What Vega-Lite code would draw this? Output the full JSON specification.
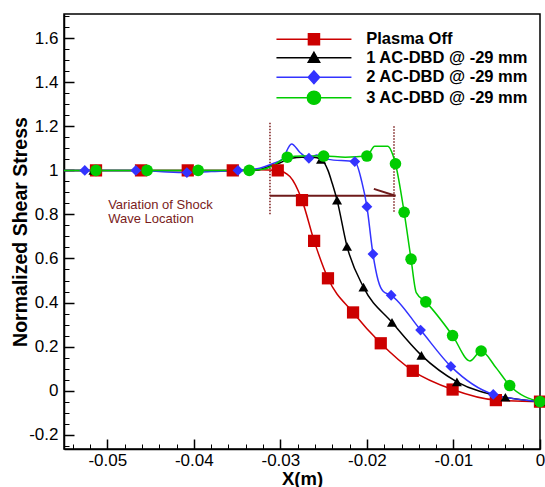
{
  "$schema": "https://vega.github.io/schema/vega-lite/v6.json",
  "width": 476,
  "height": 435,
  "autosize": "none",
  "padding": {"left": 64, "top": 14, "right": 5, "bottom": 38},
  "background": "white",
  "config": {"view": {"stroke": "black", "strokeWidth": 1.5}, "font": "Liberation Sans"},
  "datasets": {
    "lines": [
      {"series": "Plasma Off", "x": -0.055, "y": 1.0},
      {"series": "Plasma Off", "x": -0.0513, "y": 1.0},
      {"series": "Plasma Off", "x": -0.0461, "y": 1.0},
      {"series": "Plasma Off", "x": -0.0407, "y": 1.0},
      {"series": "Plasma Off", "x": -0.0355, "y": 1.0},
      {"series": "Plasma Off", "x": -0.0325, "y": 1.003},
      {"series": "Plasma Off", "x": -0.0303, "y": 1.0},
      {"series": "Plasma Off", "x": -0.0289, "y": 0.972},
      {"series": "Plasma Off", "x": -0.0275, "y": 0.865},
      {"series": "Plasma Off", "x": -0.0261, "y": 0.68},
      {"series": "Plasma Off", "x": -0.0245, "y": 0.51},
      {"series": "Plasma Off", "x": -0.0216, "y": 0.355},
      {"series": "Plasma Off", "x": -0.0184, "y": 0.215},
      {"series": "Plasma Off", "x": -0.0147, "y": 0.09},
      {"series": "Plasma Off", "x": -0.0101, "y": 0.005},
      {"series": "Plasma Off", "x": -0.0051, "y": -0.043},
      {"series": "Plasma Off", "x": 0, "y": -0.05},
      {"series": "1 AC-DBD @ -29 mm", "x": -0.055, "y": 1.0},
      {"series": "1 AC-DBD @ -29 mm", "x": -0.0516, "y": 1.0},
      {"series": "1 AC-DBD @ -29 mm", "x": -0.04, "y": 1.0},
      {"series": "1 AC-DBD @ -29 mm", "x": -0.033, "y": 1.0},
      {"series": "1 AC-DBD @ -29 mm", "x": -0.0315, "y": 1.015},
      {"series": "1 AC-DBD @ -29 mm", "x": -0.03, "y": 1.035},
      {"series": "1 AC-DBD @ -29 mm", "x": -0.0287, "y": 1.055},
      {"series": "1 AC-DBD @ -29 mm", "x": -0.0275, "y": 1.06},
      {"series": "1 AC-DBD @ -29 mm", "x": -0.0262, "y": 1.06},
      {"series": "1 AC-DBD @ -29 mm", "x": -0.0253, "y": 1.05},
      {"series": "1 AC-DBD @ -29 mm", "x": -0.0245, "y": 1.0},
      {"series": "1 AC-DBD @ -29 mm", "x": -0.024, "y": 0.94},
      {"series": "1 AC-DBD @ -29 mm", "x": -0.02345, "y": 0.865},
      {"series": "1 AC-DBD @ -29 mm", "x": -0.0223, "y": 0.655},
      {"series": "1 AC-DBD @ -29 mm", "x": -0.0204, "y": 0.47},
      {"series": "1 AC-DBD @ -29 mm", "x": -0.0171, "y": 0.31},
      {"series": "1 AC-DBD @ -29 mm", "x": -0.0137, "y": 0.16},
      {"series": "1 AC-DBD @ -29 mm", "x": -0.0096, "y": 0.04},
      {"series": "1 AC-DBD @ -29 mm", "x": -0.004, "y": -0.03},
      {"series": "1 AC-DBD @ -29 mm", "x": 0, "y": -0.05},
      {"series": "2 AC-DBD @ -29 mm", "x": -0.055, "y": 1.0},
      {"series": "2 AC-DBD @ -29 mm", "x": -0.0526, "y": 1.0},
      {"series": "2 AC-DBD @ -29 mm", "x": -0.0467, "y": 1.0},
      {"series": "2 AC-DBD @ -29 mm", "x": -0.044, "y": 0.995},
      {"series": "2 AC-DBD @ -29 mm", "x": -0.0408, "y": 0.99},
      {"series": "2 AC-DBD @ -29 mm", "x": -0.038, "y": 0.995},
      {"series": "2 AC-DBD @ -29 mm", "x": -0.0349, "y": 1.0},
      {"series": "2 AC-DBD @ -29 mm", "x": -0.0324, "y": 1.01},
      {"series": "2 AC-DBD @ -29 mm", "x": -0.0309, "y": 1.03},
      {"series": "2 AC-DBD @ -29 mm", "x": -0.0298, "y": 1.05},
      {"series": "2 AC-DBD @ -29 mm", "x": -0.0287, "y": 1.12},
      {"series": "2 AC-DBD @ -29 mm", "x": -0.0277, "y": 1.08},
      {"series": "2 AC-DBD @ -29 mm", "x": -0.0267, "y": 1.055},
      {"series": "2 AC-DBD @ -29 mm", "x": -0.0258, "y": 1.07},
      {"series": "2 AC-DBD @ -29 mm", "x": -0.0245, "y": 1.05},
      {"series": "2 AC-DBD @ -29 mm", "x": -0.0214, "y": 1.04},
      {"series": "2 AC-DBD @ -29 mm", "x": -0.0206, "y": 0.95},
      {"series": "2 AC-DBD @ -29 mm", "x": -0.02, "y": 0.835},
      {"series": "2 AC-DBD @ -29 mm", "x": -0.0193, "y": 0.62},
      {"series": "2 AC-DBD @ -29 mm", "x": -0.0187, "y": 0.5},
      {"series": "2 AC-DBD @ -29 mm", "x": -0.0181, "y": 0.45},
      {"series": "2 AC-DBD @ -29 mm", "x": -0.0172, "y": 0.433},
      {"series": "2 AC-DBD @ -29 mm", "x": -0.0138, "y": 0.275},
      {"series": "2 AC-DBD @ -29 mm", "x": -0.0103, "y": 0.11},
      {"series": "2 AC-DBD @ -29 mm", "x": -0.0054, "y": -0.017},
      {"series": "2 AC-DBD @ -29 mm", "x": 0, "y": -0.05},
      {"series": "3 AC-DBD @ -29 mm", "x": -0.055, "y": 1.0},
      {"series": "3 AC-DBD @ -29 mm", "x": -0.0513, "y": 1.0},
      {"series": "3 AC-DBD @ -29 mm", "x": -0.0454, "y": 1.0},
      {"series": "3 AC-DBD @ -29 mm", "x": -0.0395, "y": 1.0},
      {"series": "3 AC-DBD @ -29 mm", "x": -0.0336, "y": 1.0},
      {"series": "3 AC-DBD @ -29 mm", "x": -0.032, "y": 1.005},
      {"series": "3 AC-DBD @ -29 mm", "x": -0.0307, "y": 1.025},
      {"series": "3 AC-DBD @ -29 mm", "x": -0.0292, "y": 1.06},
      {"series": "3 AC-DBD @ -29 mm", "x": -0.0275, "y": 1.065},
      {"series": "3 AC-DBD @ -29 mm", "x": -0.025, "y": 1.065},
      {"series": "3 AC-DBD @ -29 mm", "x": -0.0225, "y": 1.06},
      {"series": "3 AC-DBD @ -29 mm", "x": -0.02, "y": 1.065},
      {"series": "3 AC-DBD @ -29 mm", "x": -0.0191, "y": 1.11},
      {"series": "3 AC-DBD @ -29 mm", "x": -0.0176, "y": 1.11},
      {"series": "3 AC-DBD @ -29 mm", "x": -0.017, "y": 1.07},
      {"series": "3 AC-DBD @ -29 mm", "x": -0.0167, "y": 1.03},
      {"series": "3 AC-DBD @ -29 mm", "x": -0.0157, "y": 0.81},
      {"series": "3 AC-DBD @ -29 mm", "x": -0.0149, "y": 0.597},
      {"series": "3 AC-DBD @ -29 mm", "x": -0.0143, "y": 0.445},
      {"series": "3 AC-DBD @ -29 mm", "x": -0.0132, "y": 0.403},
      {"series": "3 AC-DBD @ -29 mm", "x": -0.0101, "y": 0.25},
      {"series": "3 AC-DBD @ -29 mm", "x": -0.0081, "y": 0.135},
      {"series": "3 AC-DBD @ -29 mm", "x": -0.0068, "y": 0.18},
      {"series": "3 AC-DBD @ -29 mm", "x": -0.0051, "y": 0.105},
      {"series": "3 AC-DBD @ -29 mm", "x": -0.0035, "y": 0.023},
      {"series": "3 AC-DBD @ -29 mm", "x": 0, "y": -0.05}
    ],
    "markers": [
      {"series": "Plasma Off", "x": -0.0513, "y": 1.0},
      {"series": "Plasma Off", "x": -0.0461, "y": 1.0},
      {"series": "Plasma Off", "x": -0.0407, "y": 1.0},
      {"series": "Plasma Off", "x": -0.0355, "y": 1.0},
      {"series": "Plasma Off", "x": -0.0303, "y": 1.0},
      {"series": "Plasma Off", "x": -0.0275, "y": 0.865},
      {"series": "Plasma Off", "x": -0.0261, "y": 0.68},
      {"series": "Plasma Off", "x": -0.0245, "y": 0.51},
      {"series": "Plasma Off", "x": -0.0216, "y": 0.355},
      {"series": "Plasma Off", "x": -0.0184, "y": 0.215},
      {"series": "Plasma Off", "x": -0.0147, "y": 0.09},
      {"series": "Plasma Off", "x": -0.0101, "y": 0.005},
      {"series": "Plasma Off", "x": -0.0051, "y": -0.043},
      {"series": "Plasma Off", "x": 0, "y": -0.05},
      {"series": "1 AC-DBD @ -29 mm", "x": -0.0516, "y": 1.0},
      {"series": "1 AC-DBD @ -29 mm", "x": -0.0253, "y": 1.05},
      {"series": "1 AC-DBD @ -29 mm", "x": -0.02345, "y": 0.865},
      {"series": "1 AC-DBD @ -29 mm", "x": -0.0223, "y": 0.655},
      {"series": "1 AC-DBD @ -29 mm", "x": -0.0204, "y": 0.47},
      {"series": "1 AC-DBD @ -29 mm", "x": -0.0171, "y": 0.31},
      {"series": "1 AC-DBD @ -29 mm", "x": -0.0137, "y": 0.16},
      {"series": "1 AC-DBD @ -29 mm", "x": -0.0096, "y": 0.04},
      {"series": "1 AC-DBD @ -29 mm", "x": -0.004, "y": -0.03},
      {"series": "1 AC-DBD @ -29 mm", "x": 0, "y": -0.05},
      {"series": "2 AC-DBD @ -29 mm", "x": -0.0526, "y": 1.0},
      {"series": "2 AC-DBD @ -29 mm", "x": -0.0467, "y": 1.0},
      {"series": "2 AC-DBD @ -29 mm", "x": -0.0408, "y": 0.99},
      {"series": "2 AC-DBD @ -29 mm", "x": -0.0349, "y": 1.0},
      {"series": "2 AC-DBD @ -29 mm", "x": -0.0267, "y": 1.055},
      {"series": "2 AC-DBD @ -29 mm", "x": -0.0214, "y": 1.04},
      {"series": "2 AC-DBD @ -29 mm", "x": -0.02, "y": 0.835},
      {"series": "2 AC-DBD @ -29 mm", "x": -0.0193, "y": 0.62},
      {"series": "2 AC-DBD @ -29 mm", "x": -0.0172, "y": 0.433},
      {"series": "2 AC-DBD @ -29 mm", "x": -0.0138, "y": 0.275},
      {"series": "2 AC-DBD @ -29 mm", "x": -0.0103, "y": 0.11},
      {"series": "2 AC-DBD @ -29 mm", "x": -0.0054, "y": -0.017},
      {"series": "2 AC-DBD @ -29 mm", "x": 0, "y": -0.05},
      {"series": "3 AC-DBD @ -29 mm", "x": -0.0513, "y": 1.0},
      {"series": "3 AC-DBD @ -29 mm", "x": -0.0454, "y": 1.0},
      {"series": "3 AC-DBD @ -29 mm", "x": -0.0395, "y": 1.0},
      {"series": "3 AC-DBD @ -29 mm", "x": -0.0336, "y": 1.0},
      {"series": "3 AC-DBD @ -29 mm", "x": -0.0292, "y": 1.06},
      {"series": "3 AC-DBD @ -29 mm", "x": -0.025, "y": 1.065},
      {"series": "3 AC-DBD @ -29 mm", "x": -0.02, "y": 1.065},
      {"series": "3 AC-DBD @ -29 mm", "x": -0.0167, "y": 1.03},
      {"series": "3 AC-DBD @ -29 mm", "x": -0.0157, "y": 0.81},
      {"series": "3 AC-DBD @ -29 mm", "x": -0.0149, "y": 0.597},
      {"series": "3 AC-DBD @ -29 mm", "x": -0.0132, "y": 0.403},
      {"series": "3 AC-DBD @ -29 mm", "x": -0.0101, "y": 0.25},
      {"series": "3 AC-DBD @ -29 mm", "x": -0.0068, "y": 0.18},
      {"series": "3 AC-DBD @ -29 mm", "x": -0.0035, "y": 0.023},
      {"series": "3 AC-DBD @ -29 mm", "x": 0, "y": -0.05}
    ],
    "vlines": [
      {"x": -0.0312, "y1": 1.216, "y2": 0.794},
      {"x": -0.01687, "y1": 1.2, "y2": 0.807}
    ],
    "arrow": [
      {"x1": -0.0312, "x2": -0.0167, "y1": 0.885, "y2": 0.885},
      {"x1": -0.0192, "x2": -0.0167, "y1": 0.916, "y2": 0.885}
    ],
    "note": [
      {"x": -0.0499, "y": 0.844, "text": "Variation of Shock"},
      {"x": -0.0499, "y": 0.781, "text": "Wave Location"}
    ]
  },
  "layer": [
    {
      "data": {"name": "vlines"},
      "mark": {"type": "rule", "strokeDash": [1.5, 1.5], "strokeWidth": 1.5, "color": "#7a1c1c"},
      "encoding": {
        "x": {"field": "x", "type": "quantitative", "scale": {"domain": [-0.055, 0], "nice": false, "zero": false}, "axis": null},
        "y": {"field": "y1", "type": "quantitative", "scale": {"domain": [-0.265, 1.71], "nice": false, "zero": false}, "axis": null},
        "y2": {"field": "y2"}
      }
    },
    {
      "data": {"name": "arrow"},
      "mark": {"type": "rule", "strokeWidth": 2, "color": "#6e1a1a"},
      "encoding": {
        "x": {"field": "x1", "type": "quantitative", "scale": {"domain": [-0.055, 0], "nice": false, "zero": false}, "axis": null},
        "x2": {"field": "x2"},
        "y": {"field": "y1", "type": "quantitative", "scale": {"domain": [-0.265, 1.71], "nice": false, "zero": false}, "axis": null},
        "y2": {"field": "y2"}
      }
    },
    {
      "data": {"name": "note"},
      "mark": {"type": "text", "align": "left", "baseline": "middle", "font": "Liberation Sans", "fontSize": 13, "color": "#7a1c1c"},
      "encoding": {
        "x": {"field": "x", "type": "quantitative", "scale": {"domain": [-0.055, 0], "nice": false, "zero": false}, "axis": null},
        "y": {"field": "y", "type": "quantitative", "scale": {"domain": [-0.265, 1.71], "nice": false, "zero": false}, "axis": null},
        "text": {"field": "text"}
      }
    },
    {
      "data": {"name": "lines"},
      "mark": {"type": "line", "interpolate": "monotone", "strokeWidth": 1.5},
      "encoding": {
        "x": {
          "field": "x", "type": "quantitative",
          "scale": {"domain": [-0.055, 0], "nice": false, "zero": false},
          "axis": {
            "orient": "bottom",
            "values": [-0.05, -0.04, -0.03, -0.02, -0.01, 0],
            "tickCount": 50,
            "labelExpr": "replace(format(datum.value, '.2~f'), '\u2212', '-')",
            "title": "X(m)", "titleFont": "Liberation Sans", "titleFontSize": 18.5, "titleFontWeight": "bold", "titleColor": "black", "titlePadding": 1,
            "labelFont": "Liberation Sans", "labelFontSize": 17, "labelColor": "black", "labelPadding": 13,
            "labelFlush": false, "labelOverlap": false, "labelBound": false,
            "tickSize": -10, "tickWidth": 1.5, "tickColor": "black",
            "domainColor": "black", "domainWidth": 1.5, "grid": false
          }
        },
        "y": {
          "field": "y", "type": "quantitative",
          "scale": {"domain": [-0.265, 1.71], "nice": false, "zero": false},
          "axis": {
            "orient": "left",
            "values": [-0.2, 0, 0.2, 0.4, 0.6, 0.8, 1, 1.2, 1.4, 1.6],
            "tickCount": 50,
            "labelExpr": "replace(format(datum.value, '.2~f'), '\u2212', '-')",
            "title": "Normalized Shear Stress", "titleFont": "Liberation Sans", "titleFontSize": 19.5, "titleFontWeight": "bold", "titleColor": "black", "titlePadding": -2,
            "labelFont": "Liberation Sans", "labelFontSize": 17, "labelColor": "black", "labelPadding": 16,
            "labelFlush": false, "labelOverlap": false, "labelBound": false,
            "tickSize": -10, "tickWidth": 1.5, "tickColor": "black",
            "domainColor": "black", "domainWidth": 1.5, "grid": false
          }
        },
        "stroke": {
          "field": "series", "type": "nominal",
          "scale": {"domain": ["Plasma Off", "1 AC-DBD @ -29 mm", "2 AC-DBD @ -29 mm", "3 AC-DBD @ -29 mm"], "range": ["#cc0000", "#000000", "#3333ff", "#00cc00"]},
          "legend": {
            "orient": "none", "legendX": 241.7, "legendY": 17, "title": null, "padding": 0,
            "labelFont": "Liberation Sans", "labelFontSize": 16.5, "labelFontWeight": "bold", "labelColor": "black", "labelLimit": 400,
            "labelOffset": 44, "symbolSize": 144, "symbolStrokeWidth": 1.5, "rowPadding": 0.5,
            "encode": {
              "symbols": {
                "update": {
                  "shape": {"signal": "datum.value === 'Plasma Off' ? 'M-6.25,0H6.25M-0.92,-0.92H0.92V0.92H-0.92Z' : datum.value === '1 AC-DBD @ -29 mm' ? 'M-6.25,0H6.25M0,-0.9L0.95,0.75H-0.95Z' : datum.value === '2 AC-DBD @ -29 mm' ? 'M-6.25,0H6.25M0,-1.05L0.95,0L0,1.05L-0.95,0Z' : 'M-6.25,0H6.25M-1.1,0A1.1,1.1,0,1,0,1.1,0A1.1,1.1,0,1,0,-1.1,0Z'"},
                  "fill": {"signal": "scale('stroke', datum.value)"},
                  "fillOpacity": {"value": 1},
                  "strokeOpacity": {"value": 1},
                  "strokeWidth": {"value": 1.5}
                }
              }
            }
          }
        }
      }
    },
    {
      "data": {"name": "markers"},
      "mark": {"type": "point", "filled": true, "opacity": 1, "strokeWidth": 0},
      "encoding": {
        "x": {
          "field": "x", "type": "quantitative",
          "scale": {"domain": [-0.055, 0], "nice": false, "zero": false},
          "axis": {
            "orient": "bottom",
            "values": [-0.054, -0.052, -0.048, -0.046, -0.044, -0.042, -0.038, -0.036, -0.034, -0.032, -0.028, -0.026, -0.024, -0.022, -0.018, -0.016, -0.014, -0.012, -0.008, -0.006, -0.004, -0.002],
            "tickCount": 100,
            "labels": false, "domain": false, "title": null, "grid": false,
            "tickSize": -5, "tickWidth": 1, "tickColor": "black"
          }
        },
        "y": {
          "field": "y", "type": "quantitative",
          "scale": {"domain": [-0.265, 1.71], "nice": false, "zero": false},
          "axis": {
            "orient": "left",
            "values": [-0.25, -0.15, -0.1, -0.05, 0.05, 0.1, 0.15, 0.25, 0.3, 0.35, 0.45, 0.5, 0.55, 0.65, 0.7, 0.75, 0.85, 0.9, 0.95, 1.05, 1.1, 1.15, 1.25, 1.3, 1.35, 1.45, 1.5, 1.55, 1.65, 1.7],
            "tickCount": 100,
            "labels": false, "domain": false, "title": null, "grid": false,
            "tickSize": -5, "tickWidth": 1, "tickColor": "black"
          }
        },
        "fill": {
          "field": "series", "type": "nominal",
          "scale": {"domain": ["1 AC-DBD @ -29 mm", "2 AC-DBD @ -29 mm", "3 AC-DBD @ -29 mm", "Plasma Off"], "range": ["#000000", "#3333ff", "#00cc00", "#cc0000"]},
          "legend": null
        },
        "shape": {
          "field": "series", "type": "nominal",
          "scale": {"domain": ["1 AC-DBD @ -29 mm", "2 AC-DBD @ -29 mm", "3 AC-DBD @ -29 mm", "Plasma Off"], "range": ["triangle-up", "diamond", "circle", "square"]},
          "legend": null
        },
        "size": {
          "field": "series", "type": "ordinal",
          "scale": {"domain": ["1 AC-DBD @ -29 mm", "2 AC-DBD @ -29 mm", "3 AC-DBD @ -29 mm", "Plasma Off"], "range": [100, 150, 180, 121]},
          "legend": null
        }
      }
    }
  ],
  "resolve": {"axis": {"x": "independent", "y": "independent"}}
}
